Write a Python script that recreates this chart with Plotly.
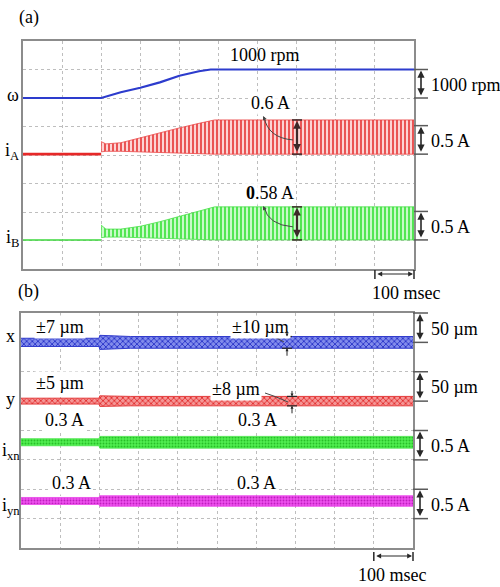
import plotly.graph_objects as go

W, H = 500, 587
FONT = "'Liberation Serif', 'Times New Roman', Times, serif"

# ---------------- panel (a): speed and phase currents ----------------
omega_t = [0, 200, 250, 300, 350, 400, 450, 480, 520, 1000]          # ms
omega_rpm = [0, 0, 200, 360, 550, 780, 940, 1000, 1000, 1000]        # rpm

ia_idle_t = [0, 200]
ia_idle = [0.0, 0.0]                                                   # A
ia_t = [200, 212, 250, 300, 350, 400, 450, 490, 1000]
ia_peak = [0.22, 0.18, 0.20, 0.29, 0.37, 0.46, 0.54, 0.60, 0.60]
ia_trough = [0.04, 0.05, 0.05, 0.04, 0.03, 0.02, 0.01, 0.0, 0.0]

ib_idle_t = [0, 200]
ib_idle = [0.0, 0.0]
ib_t = [200, 212, 250, 300, 350, 400, 450, 490, 1000]
ib_peak = [0.26, 0.19, 0.19, 0.24, 0.32, 0.41, 0.50, 0.58, 0.58]
ib_trough = [0.04, 0.05, 0.05, 0.04, 0.03, 0.02, 0.01, 0.0, 0.0]

# ---------------- panel (b): radial positions and suspension currents ----------------
susp_t = [0, 199, 201, 240, 280, 1000]                                 # ms
x_amp_um = [7, 7, 12, 11, 10, 10]                                      # +/- um
y_amp_um = [5, 5, 9, 8, 8, 8]
ixn_level = [0.3, 0.3, 0.3, 0.3, 0.3, 0.3]                             # A
ixn_ripple = [0.06, 0.06, 0.10, 0.10, 0.10, 0.10]
iyn_level = [0.3, 0.3, 0.3, 0.3, 0.3, 0.3]
iyn_ripple = [0.06, 0.06, 0.09, 0.09, 0.09, 0.09]

# scope channel settings: (zero position in divisions from bottom, units per division)
CH = {
    "omega": (6.0, 1000.0),
    "ia": (4.03, 0.5),
    "ib": (1.02, 0.5),
    "x": (7.0, 50.0),
    "y": (5.0, 50.0),
    "ixn": (3.0, 0.5),
    "iyn": (1.0, 0.5),
}

# screen boxes (left, top, right, bottom) in pixels
PA = (23, 41, 414, 269)
PB = (21, 313, 413, 548)


def px(x):
    return x / W


def py(y):
    return 1 - y / H


def to_div(ch, vals):
    pos, sc = CH[ch]
    return [pos + v / sc for v in vals]


def div_px(panel, d):
    return panel[3] - d * (panel[3] - panel[1]) / 8.0


def t_px(panel, t):
    return panel[0] + t / 1000.0 * (panel[2] - panel[0])


fig = go.Figure()


def line(x, y, color, width, ax="x", ay="y"):
    fig.add_trace(go.Scatter(x=x, y=y, mode="lines", xaxis=ax, yaxis=ay,
                             line=dict(color=color, width=width), hoverinfo="skip"))


def band(x, lo, hi, edge, fg, bg, shape, size, solidity, ax="x", ay="y", ew=0.8):
    fig.add_trace(go.Scatter(x=x, y=lo, mode="lines", xaxis=ax, yaxis=ay,
                             line=dict(color=edge, width=ew), hoverinfo="skip"))
    fig.add_trace(go.Scatter(x=x, y=hi, mode="lines", xaxis=ax, yaxis=ay,
                             line=dict(color=edge, width=ew), fill="tonexty",
                             fillcolor=bg,
                             fillpattern=dict(shape=shape, size=size, solidity=solidity,
                                              fgcolor=fg, bgcolor=bg, fillmode="replace"),
                             hoverinfo="skip"))


# ----- panel (a) traces -----
line(omega_t, to_div("omega", omega_rpm), "rgb(45,60,205)", 2.2)
line(ia_idle_t, to_div("ia", ia_idle), "rgb(230,40,40)", 2.6)
band(ia_t, to_div("ia", ia_trough), to_div("ia", ia_peak), "rgb(235,70,70)",
     "rgb(232,70,70)", "rgb(252,212,212)", "|", 4, 0.45)
line(ib_idle_t, to_div("ib", ib_idle), "rgb(60,215,60)", 1.6)
band(ib_t, to_div("ib", ib_trough), to_div("ib", ib_peak), "rgb(70,225,70)",
     "rgb(70,228,70)", "rgb(200,250,200)", "|", 4, 0.45)

# ----- panel (b) traces -----
band(susp_t, to_div("x", [-a for a in x_amp_um]), to_div("x", x_amp_um),
     "rgb(50,60,205)", "rgb(40,50,200)", "rgb(130,140,235)", "x", 4, 0.4,
     ax="x2", ay="y2", ew=1.0)
band(susp_t, to_div("y", [-a for a in y_amp_um]), to_div("y", y_amp_um),
     "rgb(228,60,60)", "rgb(225,45,45)", "rgb(245,150,150)", "x", 4, 0.4,
     ax="x2", ay="y2", ew=1.0)
band(susp_t, to_div("ixn", [l - r for l, r in zip(ixn_level, ixn_ripple)]),
     to_div("ixn", [l + r for l, r in zip(ixn_level, ixn_ripple)]),
     "rgb(70,230,70)", "rgb(40,190,40)", "rgb(80,238,80)", ".", 3, 0.3,
     ax="x2", ay="y2")
band(susp_t, to_div("iyn", [l - r for l, r in zip(iyn_level, iyn_ripple)]),
     to_div("iyn", [l + r for l, r in zip(iyn_level, iyn_ripple)]),
     "rgb(235,70,235)", "rgb(190,30,190)", "rgb(238,80,238)", ".", 3, 0.3,
     ax="x2", ay="y2")

# ----- axes: 10 x 8 graticule -----
grid = dict(showgrid=True, gridcolor="rgb(190,190,190)", griddash="dot", gridwidth=1,
            showline=True, mirror=True, linecolor="rgb(140,140,140)", linewidth=2,
            zeroline=False, showticklabels=False, ticks="", fixedrange=True)

fig.update_layout(
    width=W, height=H, margin=dict(l=0, r=0, t=0, b=0),
    paper_bgcolor="white", plot_bgcolor="white", showlegend=False,
    font=dict(family=FONT),
    xaxis=dict(domain=[px(PA[0]), px(PA[2])], range=[0, 1000], dtick=100, anchor="y", **grid),
    yaxis=dict(domain=[py(PA[3]), py(PA[1])], range=[0, 8], dtick=1, anchor="x", **grid),
    xaxis2=dict(domain=[px(PB[0]), px(PB[2])], range=[0, 1000], dtick=100, anchor="y2", **grid),
    yaxis2=dict(domain=[py(PB[3]), py(PB[1])], range=[0, 8], dtick=1, anchor="x2", **grid),
)

annotations = []
shapes = []
DARK = "rgb(40,40,40)"


def text(s, x, y, size=18, xanchor="center", bg=None):
    annotations.append(dict(text=s, x=px(x), y=py(y), xref="paper", yref="paper",
                            showarrow=False, xanchor=xanchor, yanchor="middle",
                            font=dict(family=FONT, size=size, color="black"),
                            bgcolor=bg, borderpad=1))


def seg(x0, y0, x1, y1, color=DARK, width=1.5):
    shapes.append(dict(type="line", xref="paper", yref="paper",
                       x0=px(x0), y0=py(y0), x1=px(x1), y1=py(y1),
                       line=dict(color=color, width=width)))


def arrow(x0, y0, x1, y1, both=True, color=DARK, width=1.5, size=1.0, head=2):
    annotations.append(dict(text="", x=px(x1), y=py(y1), xref="paper", yref="paper",
                            ax=x0 - x1, ay=y0 - y1, axref="pixel", ayref="pixel",
                            showarrow=True, arrowhead=head, startarrowhead=head,
                            arrowside="end+start" if both else "end",
                            arrowsize=size, startarrowsize=size,
                            arrowwidth=width, arrowcolor=color,
                            standoff=0, startstandoff=0))


def curve(x0, y0, cx, cy, x1, y1, color=DARK, width=1.0):
    shapes.append(dict(type="path", xref="paper", yref="paper",
                       path=f"M {px(x0)},{py(y0)} Q {px(cx)},{py(cy)} {px(x1)},{py(y1)}",
                       line=dict(color=color, width=width)))


def scale_bar(panel, ch, label, xbar=421):
    pos = CH[ch][0]
    top = div_px(panel, pos + 1)
    bot = div_px(panel, pos)
    seg(panel[2], top, 428, top, color="rgb(90,90,90)", width=1.5)
    seg(panel[2], bot, 428, bot, color="rgb(90,90,90)", width=1.5)
    arrow(xbar, bot - 1, xbar, top + 1, both=True, width=1.6, size=0.9)
    text(label, 429, (top + bot) / 2 + 1, xanchor="left")


def time_bar(panel, ybar, label_x, label_y):
    x0 = t_px(panel, 900)
    x1 = t_px(panel, 1000)
    seg(x0, ybar - 4, x0, ybar + 5, width=1.5)
    seg(x1, ybar - 4, x1, ybar + 5, width=1.5)
    arrow(x0 + 1, ybar, x1 - 1, ybar, both=True, width=1.2, size=0.8)
    text("100 msec", label_x, label_y)


# ----- panel (a) labels -----
text("(a)", 29, 17)
text("ω", 13, 95)
text("i<sub>A</sub>", 12, 151)
text("i<sub>B</sub>", 12, 238)
text("1000 rpm", 265, 55)
scale_bar(PA, "omega", "1000 rpm")
scale_bar(PA, "ia", "0.5 A")
scale_bar(PA, "ib", "0.5 A")
time_bar(PA, 274, 406, 293)

# peak-to-peak markers for the phase currents
for ch, peak, lab, ly in (("ia", ia_peak[-1], "0.6 A", 103), ("ib", ib_peak[-1], "<b>0</b>.58 A", 193)):
    ytop = div_px(PA, to_div(ch, [peak])[0])
    ybot = div_px(PA, CH[ch][0])
    seg(292, ytop, 302, ytop, color="rgb(60,40,40)", width=1.5)
    seg(292, ybot, 302, ybot, color="rgb(60,40,40)", width=1.5)
    arrow(297, ybot - 1, 297, ytop + 1, both=True, color="rgb(60,40,40)", width=2.2, size=0.7)
    text(lab, 270, ly, bg="rgba(255,255,255,0.85)")
    curve(293, ytop + 20, 268, ytop + 18, 264, ly + 14, color="rgb(70,70,70)", width=1.0)
    arrow(266, ly + 19, 263, ly + 13, both=False, color="rgb(70,70,70)", width=1.0, size=0.8)

# ----- panel (b) labels -----
text("(b)", 28, 291)
text("x", 10, 336)
text("y", 10, 399)
text("i<sub>xn</sub>", 0, 451, xanchor="left")
text("i<sub>yn</sub>", 0, 506, xanchor="left")
text("±7 µm", 60, 327, bg="white")
text("±10 µm", 260, 327, bg="white")
text("±5 µm", 60, 383, bg="white")
text("±8 µm", 236, 389, bg="white")
text("0.3 A", 64, 420, bg="white")
text("0.3 A", 257, 420, bg="white")
text("0.3 A", 71, 483, bg="white")
text("0.3 A", 256, 483, bg="white")
scale_bar(PB, "x", "50 µm", xbar=420)
scale_bar(PB, "y", "50 µm", xbar=420)
scale_bar(PB, "ixn", "0.5 A", xbar=420)
scale_bar(PB, "iyn", "0.5 A", xbar=420)
time_bar(PB, 556, 392, 575)

# small amplitude markers on x and y
for ch, amp, xm, (c0, c1, c2) in (("x", x_amp_um[-1], 287, ((266, 335), (275, 336), (284, 342))),
                                  ("y", y_amp_um[-1], 292, ((265, 393), (275, 396), (288, 402)))):
    yt = div_px(PB, to_div(ch, [amp])[0])
    yb = div_px(PB, to_div(ch, [-amp])[0])
    seg(xm - 5, yt, xm + 5, yt, width=1.2)
    seg(xm - 5, yb, xm + 5, yb, width=1.2)
    arrow(xm, yt - 7, xm, yt, both=False, width=1.0, size=0.6)
    arrow(xm, yb + 9, xm, yb, both=False, width=1.0, size=0.6)
    curve(c0[0], c0[1], c1[0], c1[1], c2[0], c2[1], color="rgb(70,70,70)", width=1.0)

fig.update_layout(annotations=annotations, shapes=shapes)
fig.write_html("out.html")
